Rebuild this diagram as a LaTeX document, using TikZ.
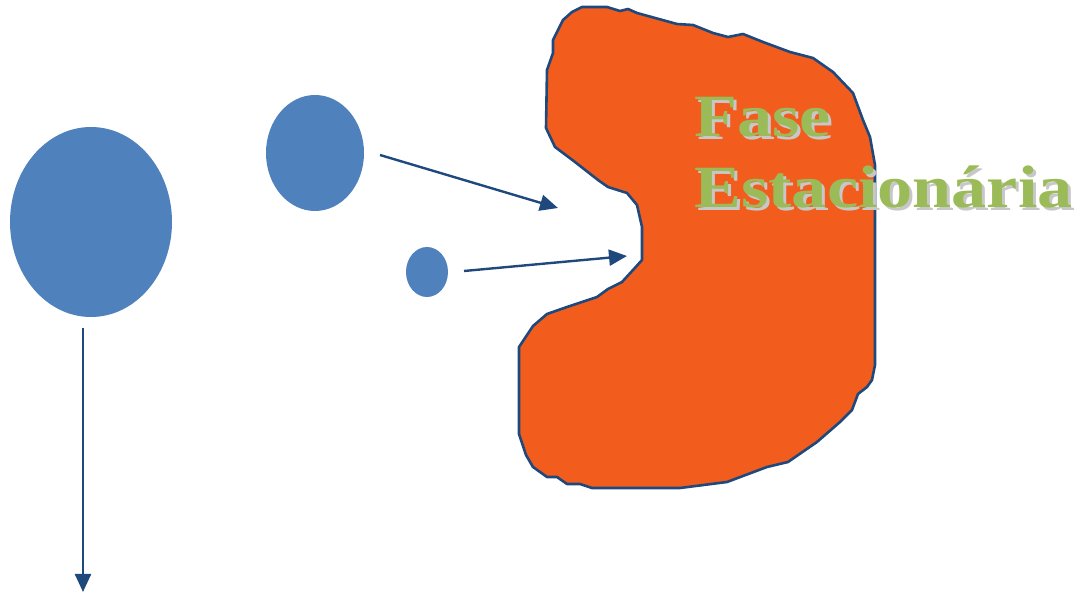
\documentclass[tikz,border=0pt]{standalone}
\usepackage{fontspec}
\newfontfamily\labelfont{Liberation Serif}
\usetikzlibrary{arrows.meta,shapes.geometric}
\definecolor{drop}{RGB}{79,129,189}
\definecolor{edge}{RGB}{31,73,125}
\definecolor{phase}{RGB}{242,92,28}
\definecolor{lettering}{RGB}{155,187,89}
\tikzset{
  drop/.style={ellipse, fill=drop, inner sep=0pt},
  flow/.style={edge, line width=1.2pt, -{Triangle[length=9pt,width=8pt]}},
  phasetext/.style={anchor=base west, align=left, inner sep=0pt, xscale=1.17,
    font=\labelfont\bfseries\fontsize{30}{35.5}\selectfont}
}
\begin{document}
\begin{tikzpicture}[x=0.5pt,y=-0.5pt]
\useasboundingbox (0,0) rectangle (1078,593);
% stationary phase
\draw[fill=phase, draw=edge, line width=1.3pt, line join=round]
  (582,7) -- (607,7) -- (620,11) -- (628,9) -- (637,13) -- (677,24) -- (693,25)
  -- (713,33) -- (728,37) -- (743,34) -- (763,42) -- (790,52) -- (813,58)
  -- (833,72) -- (853,93) -- (863,120) -- (870,137) -- (875,165) -- (875,365)
  -- (872,380) -- (867,387) -- (858,394) -- (852,410) -- (840,422) -- (817,442)
  -- (788,462) -- (767,467) -- (727,482) -- (680,488) -- (592,488) -- (580,484)
  -- (567,484) -- (557,477) -- (547,477) -- (533,467) -- (526,455) -- (519,434)
  -- (519,347) -- (533,326) -- (547,314) -- (567,307) -- (597,297) -- (608,289)
  -- (622,282) -- (633,270) -- (642,260) -- (642,227) -- (637,205) -- (627,193)
  -- (608,187) -- (598,180) -- (575,162) -- (555,147) -- (546,128) -- (547,70)
  -- (553,53) -- (553,40) -- (563,20) -- (572,12) -- cycle;
\node[phasetext, text=black!22] (shade) at (697,211) {Fase\\Estacionária};
\node[phasetext, text=lettering] (label) at (694,208) {Fase\\Estacionária};
% molecules
\node[drop, minimum width=81pt, minimum height=95pt] (big) at (91,222) {};
\node[drop, minimum width=49pt, minimum height=58pt] (mid) at (315,153) {};
\node[drop, minimum width=21pt, minimum height=25pt] (small) at (427,272) {};
\coordinate (midout) at (380,155);
\coordinate (midin) at (558,208);
\coordinate (smallout) at (464,271);
\coordinate (smallin) at (627,256);
\coordinate (bigout) at (83,328);
\coordinate (bigin) at (83,592);
\draw[flow] (midout) -- (midin);
\draw[flow] (smallout) -- (smallin);
\draw[flow] (bigout) -- (bigin);
\end{tikzpicture}
\end{document}
